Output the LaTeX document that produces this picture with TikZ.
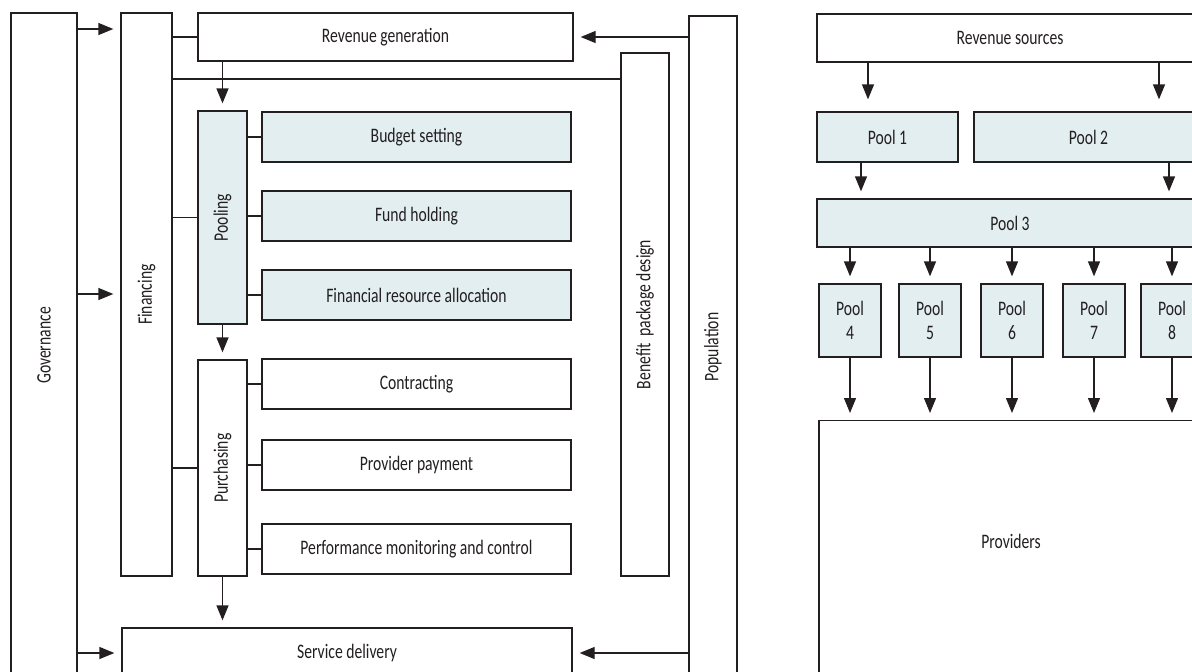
\documentclass[tikz,border=0pt]{standalone}
\usepackage{fontspec}
\setmainfont{Carlito}[FakeStretch=0.76]
\usepackage{xcolor}
\usepackage{tikz}
\usetikzlibrary{arrows.meta}
\definecolor{ink}{HTML}{231F20}
\definecolor{poolfill}{HTML}{E3EEF0}

\begin{document}
\begin{tikzpicture}[
  x=1pt, y=-1pt, line width=1.3pt, color=ink,
  font=\fontsize{20.6}{24}\selectfont,
  cell/.style={draw, rectangle, inner sep=0pt, align=center, fill=white},
  pool/.style={cell, fill=poolfill},
  sub/.style={minimum width=309pt, minimum height=50pt},
  vtext/.style={rotate=90},
  arr/.style={-{Triangle[length=15pt,width=12pt]}, shorten >=7pt}
]
\path[use as bounding box, clip] (0,0) rectangle (1192,672);

% health financing functions
\node[cell, minimum width=66pt, minimum height=665pt, label={[vtext]center:Governance}] (gov) at (44,345.5) {};
\node[cell, minimum width=51pt, minimum height=563pt, label={[vtext]center:Financing}] (fin) at (146.5,294.5) {};
\node[cell, minimum width=375pt, minimum height=48pt] (revgen) at (385.5,37) {Revenue generation};
\node[pool, minimum width=49pt, minimum height=213pt, label={[vtext]center:Pooling}] (pooling) at (222.5,217.5) {};
\node[pool, sub] (budget) at (416.5,137) {Budget setting};
\node[pool, sub] (fund) at (416.5,216) {Fund holding};
\node[pool, sub] (alloc) at (416.5,295) {Financial resource allocation};
\node[cell, minimum width=49pt, minimum height=216pt, label={[vtext]center:Purchasing}] (purch) at (222.5,468) {};
\node[cell, sub] (contr) at (416.5,384) {Contracting};
\node[cell, sub] (pay) at (416.5,465) {Provider payment};
\node[cell, sub] (perf) at (416.5,549) {Performance monitoring and control};
\node[cell, minimum width=450pt, minimum height=50pt] (serv) at (347,653) {Service delivery};
\node[cell, minimum width=48pt, minimum height=523pt, label={[vtext]center:Benefit~ package design}] (benefit) at (645,314.5) {};
\node[cell, minimum width=48pt, minimum height=662pt, label={[vtext]center:Population}] (popu) at (713,347) {};

\coordinate (r1) at (0,29);
\coordinate (r2) at (0,294);
\coordinate (r3) at (0,79);
\draw[arr] (gov.east |- r1) -- (fin.west |- r1);
\draw[arr] (gov.east |- r2) -- (fin.west |- r2);
\draw[arr] (gov.east |- serv.west) -- (serv.west);
\draw (fin.east |- revgen.west) -- (revgen.west);
\draw (fin.east |- r3) -- (benefit.west |- r3);
\draw (fin.east |- pooling.west) -- (pooling.west);
\draw (fin.east |- purch.west) -- (purch.west);
\draw[arr] (pooling.north |- revgen.south) -- (pooling.north);
\draw[arr] (pooling.south) -- (purch.north);
\draw[arr] (purch.south) -- (purch.south |- serv.north);
\foreach \n in {budget,fund,alloc}
  \draw (pooling.east |- \n.west) -- (\n.west);
\foreach \n in {contr,pay,perf}
  \draw (purch.east |- \n.west) -- (\n.west);
\draw[arr] (popu.west |- revgen.east) -- (revgen.east);
\draw[arr] (popu.west |- serv.east) -- (serv.east);

% pooling arrangements
\node[cell, minimum width=386pt, minimum height=48pt] (revsrc) at (1010,38) {Revenue sources};
\node[pool, minimum width=141pt, minimum height=50pt] (p1) at (887.5,137) {Pool 1};
\node[pool, minimum width=229pt, minimum height=50pt] (p2) at (1088.5,137) {Pool 2};
\node[pool, minimum width=386pt, minimum height=48pt] (p3) at (1010,223) {Pool 3};
\foreach \i/\x in {4/850,5/930,6/1012,7/1094,8/1172}
  \node[pool, minimum width=62pt, minimum height=73pt] (p\i) at (\x,320.5) {Pool\\\i};
\node[cell, anchor=north, minimum width=384pt, text height=128pt, text depth=150pt] (prov) at (1011,420) {Providers};

\coordinate (c1) at (868,0);
\coordinate (c2) at (1159,0);
\coordinate (c3) at (861,0);
\coordinate (c4) at (1169,0);
\draw[arr, shorten >=12pt] (revsrc.south -| c1) -- (p1.north -| c1);
\draw[arr, shorten >=12pt] (revsrc.south -| c2) -- (p2.north -| c2);
\draw[arr] (p1.south -| c3) -- (p3.north -| c3);
\draw[arr] (p2.south -| c4) -- (p3.north -| c4);
\foreach \i in {4,...,8} {
  \draw[arr] (p3.south -| p\i.north) -- (p\i.north);
  \draw[arr] (p\i.south) -- (p\i.south |- prov.north);
}
\end{tikzpicture}
\end{document}
